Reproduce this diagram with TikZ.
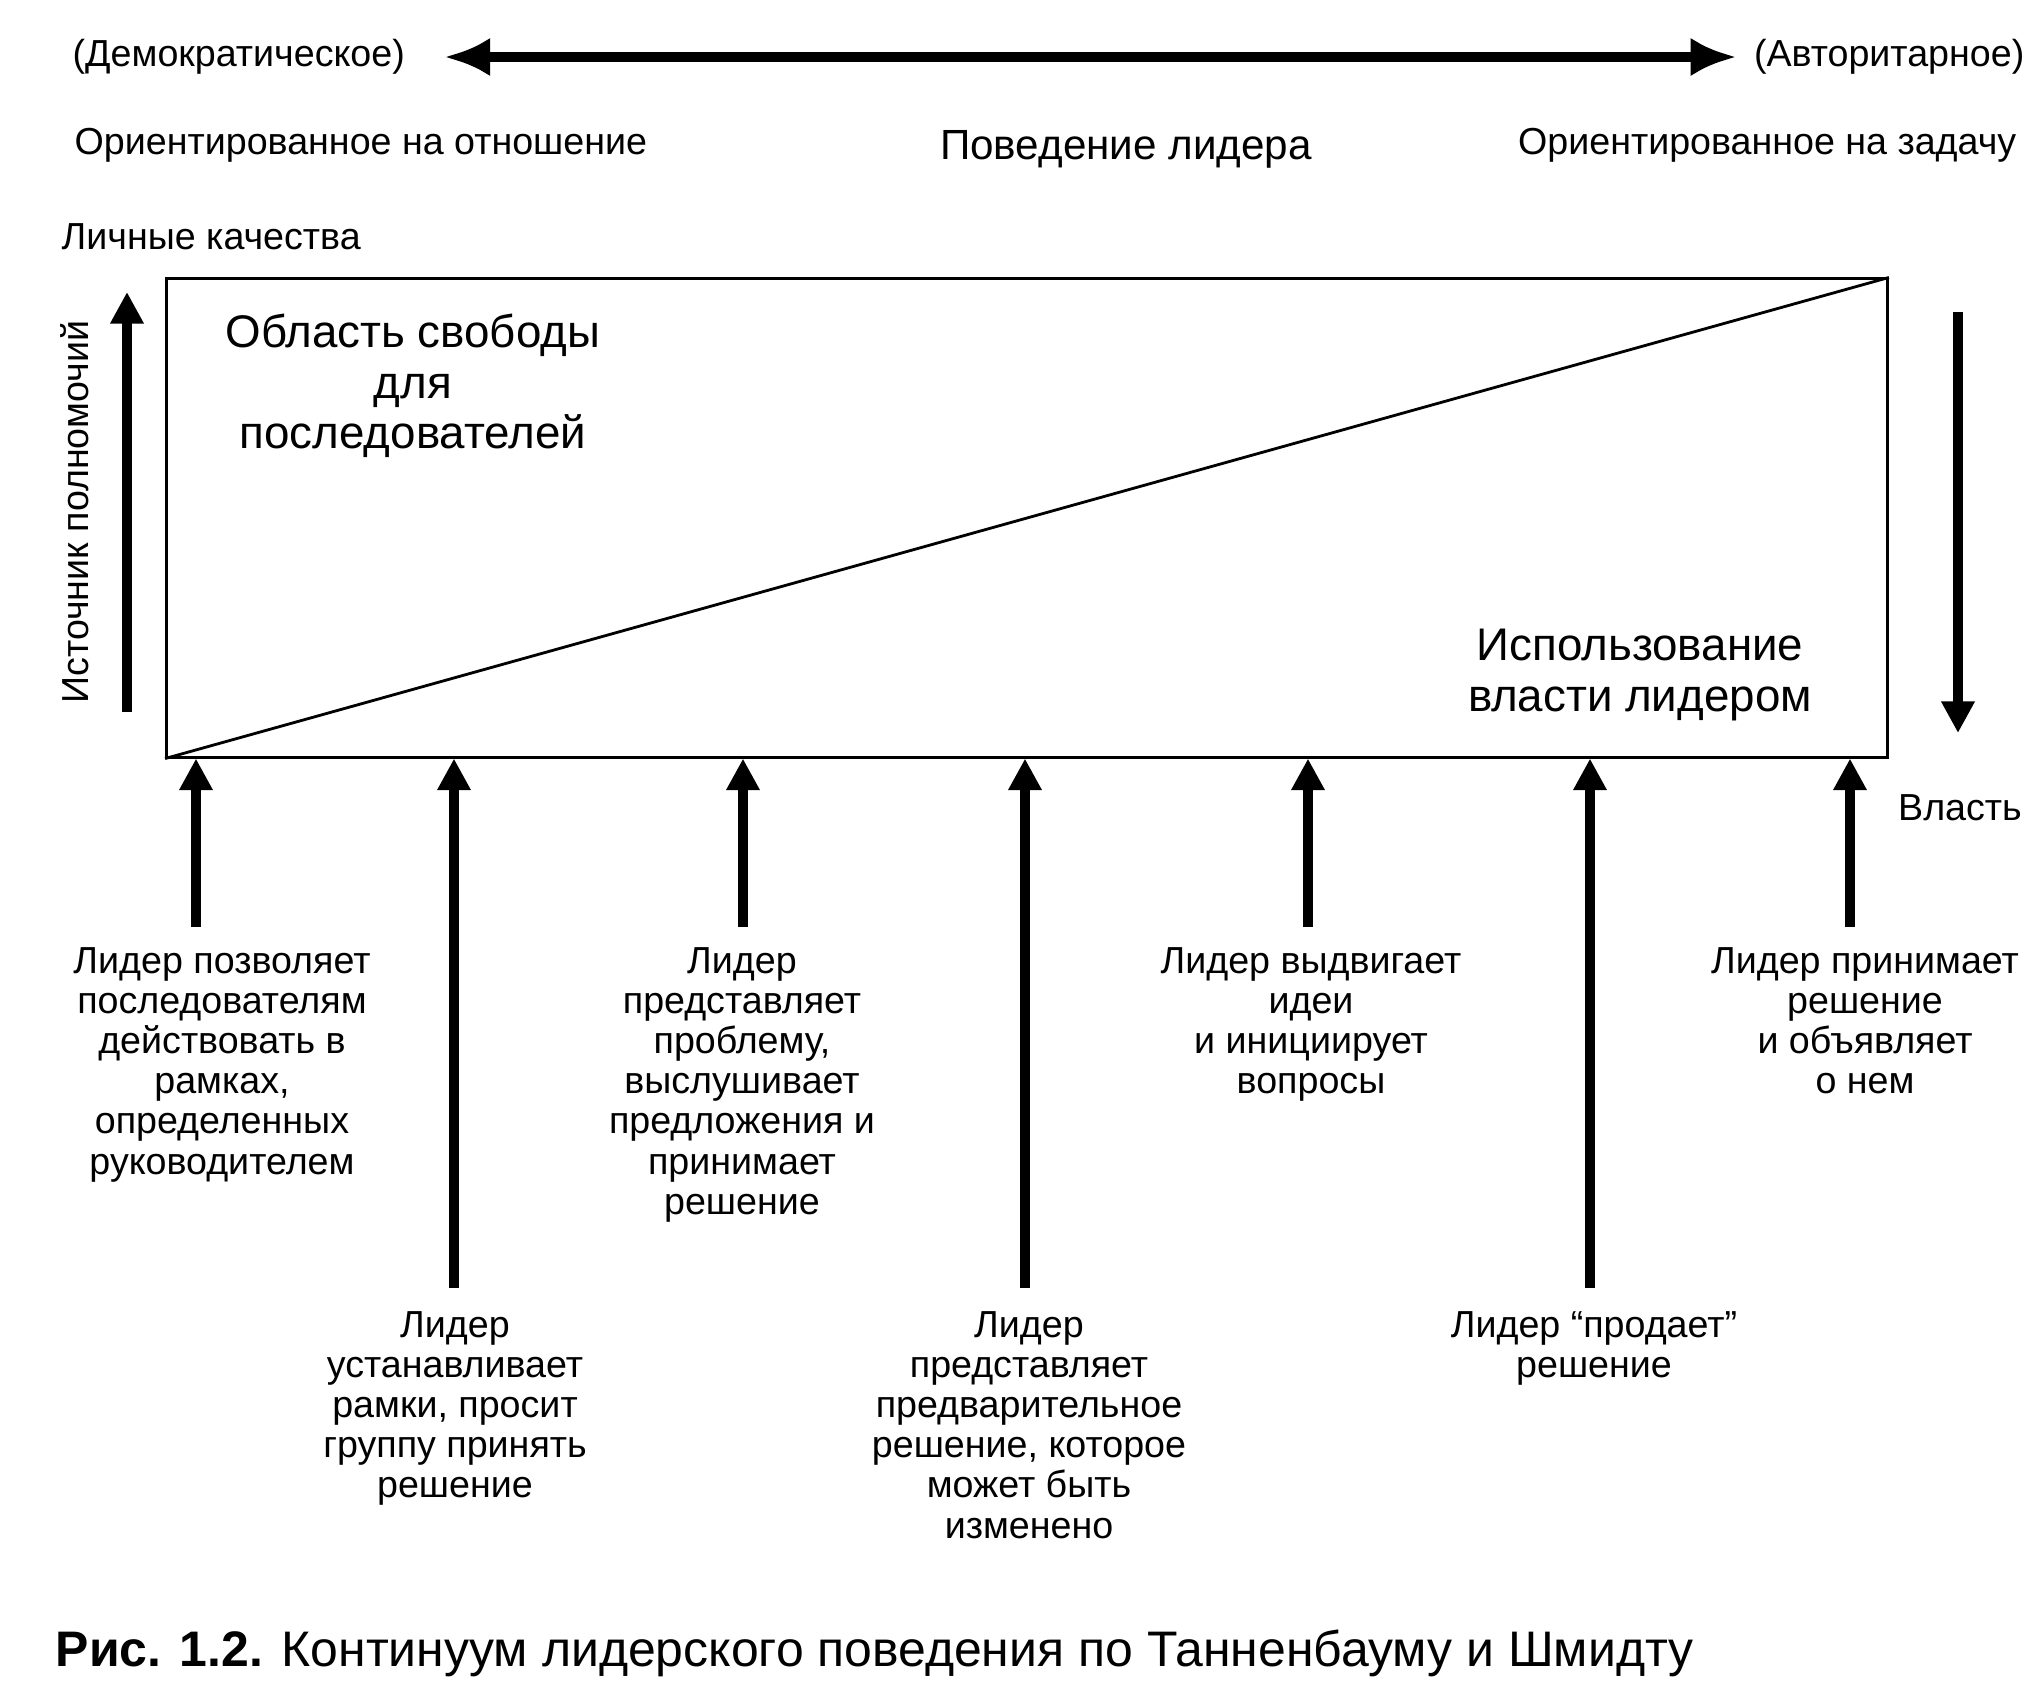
\documentclass[tikz,border=0pt]{standalone}
\usepackage{fontspec}
\setmainfont{Liberation Sans}
\usetikzlibrary{positioning,arrows.meta}

\begin{document}
\begin{tikzpicture}[x=0.01cm,y=-0.01cm,
    txt/.style={font=\fontsize{10.7}{11.4}\selectfont,inner sep=0pt},
    lab/.style={txt,align=center,anchor=north},
    area/.style={font=\fontsize{13}{14.3}\selectfont,align=center,inner sep=0pt},
    powarrow/.style={line width=2.7pt,-{Triangle[width=9pt,length=9pt]}},
    scalearrow/.style={line width=3pt,{Latex[width=11pt,length=13pt]}-{Latex[width=11pt,length=13pt]}}]
  \useasboundingbox (0,0) rectangle (2044,1699);
  % behaviour scale on top
  \node[txt,anchor=west] (dem) at (72,57) {(Демократическое)};
  \node[txt,anchor=east] (aut) at (2025,57) {(Авторитарное)};
  \draw[scalearrow,shorten <=0.39cm,shorten >=0.17cm] (dem.east) -- (aut.west);
  \node[txt,anchor=west] (rel) at (74,145) {Ориентированное на отношение};
  \node[font=\fontsize{12}{14}\selectfont,inner sep=0pt] (beh) at (1126,149) {Поведение лидера};
  \node[txt,anchor=east] (task) at (2017,145) {Ориентированное на задачу};
  % main box split by diagonal
  \node[draw,line width=0.8pt,minimum width=17.2cm,minimum height=4.78cm,inner sep=0pt] (box) at (1027,518) {};
  \draw[line width=0.8pt] (box.south west) -- (box.north east);
  \node[area] (free) at (413,386) {Область свободы\\для\\последователей};
  \node[area] (use) at (1640,675) {Использование\\власти лидером};
  % side axes
  \node[txt,anchor=west] (pers) at (61,237) {Личные качества};
  \node[txt,rotate=90] (src) at (75,512) {Источник полномочий};
  \coordinate (up0) at (127,712);
  \coordinate (up1) at (127,292);
  \draw[powarrow] (up0) -- (up1);
  \coordinate (dn0) at (1958,312);
  \coordinate (dn1) at (1958,733);
  \draw[powarrow] (dn0) -- (dn1);
  \node[txt] (pow) at (1960,808) {Власть};
  % seven behaviour points
  \foreach \i/\ax/\ay/\tx/\ty/\lab in {
     1/196/927/222/947/{Лидер позволяет\\последователям\\действовать в\\рамках,\\определенных\\руководителем},
     2/454/1288/455/1311/{Лидер\\устанавливает\\рамки, просит\\группу принять\\решение},
     3/743/927/742/947/{Лидер\\представляет\\проблему,\\выслушивает\\предложения и\\принимает\\решение},
     4/1025/1288/1029/1311/{Лидер\\представляет\\предварительное\\решение, которое\\может быть\\изменено},
     5/1308/927/1311/947/{Лидер выдвигает\\идеи\\и инициирует\\вопросы},
     6/1590/1288/1594/1311/{Лидер “продает”\\решение},
     7/1850/927/1865/947/{Лидер принимает\\решение\\и объявляет\\о нем}}{
    \coordinate (foot\i) at (\ax,\ay);
    \draw[powarrow] (foot\i) -- (foot\i |- box.south);
    \node[lab] (lab\i) at (\tx,\ty) {\lab};
  }
  \node[font=\fontsize{14.2}{16}\selectfont,inner sep=0pt,anchor=west] (cap) at (55,1653)
    {\textbf{Рис. 1.2.} Континуум лидерского поведения по Танненбауму и Шмидту};
\end{tikzpicture}
\end{document}
